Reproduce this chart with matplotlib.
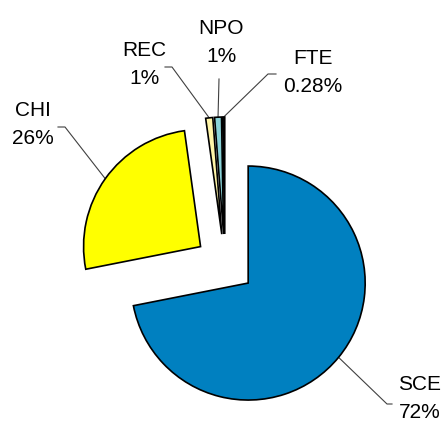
import numpy as np
import matplotlib
matplotlib.use('Agg')
import matplotlib.pyplot as plt

# data
names = ['SCE', 'CHI', 'REC', 'NPO', 'FTE']
shares = [71.9, 25.9, 0.97, 0.95, 0.28]
pct_text = ['72%', '26%', '1%', '1%', '0.28%']
colors = ['#0080C0', '#FFFF00', '#FFF5A8', '#8AD3D8', '#111111']

# where the labels sit (image pixels, y down) and the knee of each leader line
label_xy = [(420, 399), (33, 124), (144, 64), (221, 43), (313, 73)]
knee_xy = [(387, 404), (65, 127), (172, 67), (219, 79), (268, 74)]
tail_xy = [(392, 404), (58, 127), (165, 67), (219, 79), (276, 74)]

W, H = 444, 424
fig = plt.figure(figsize=(4.44, 4.24), dpi=100)
ax = fig.add_axes([0, 0, 1, 1])

cx, cy, R = 225, H - 264, 117
expl = 30  # matplotlib explode is in data units when radius is given
wedges, _ = ax.pie(shares, colors=colors, startangle=90, counterclock=False,
                   center=(cx, cy), radius=R, explode=[expl] * len(shares),
                   wedgeprops=dict(edgecolor='black', linewidth=1.2),
                   frame=True)
ax.set_xlim(0, W)
ax.set_ylim(0, H)
ax.set_aspect('equal')
ax.axis('off')

for i, w in enumerate(wedges):
    mid = np.deg2rad((w.theta1 + w.theta2) / 2)
    wx, wy = w.center
    ax_pt = (wx + w.r * np.cos(mid), wy + w.r * np.sin(mid))
    kx, ky = knee_xy[i]
    tx, ty = tail_xy[i]
    ax.plot([ax_pt[0], kx, tx], [ax_pt[1], H - ky, H - ty],
            color='#404040', lw=0.8, zorder=0)
    lx, ly = label_xy[i]
    ax.text(lx, H - ly, names[i] + '\n' + pct_text[i], ha='center', va='center',
            fontsize=15, linespacing=1.6, family=['Liberation Sans', 'DejaVu Sans'])

fig.savefig('out.png', dpi=100)
